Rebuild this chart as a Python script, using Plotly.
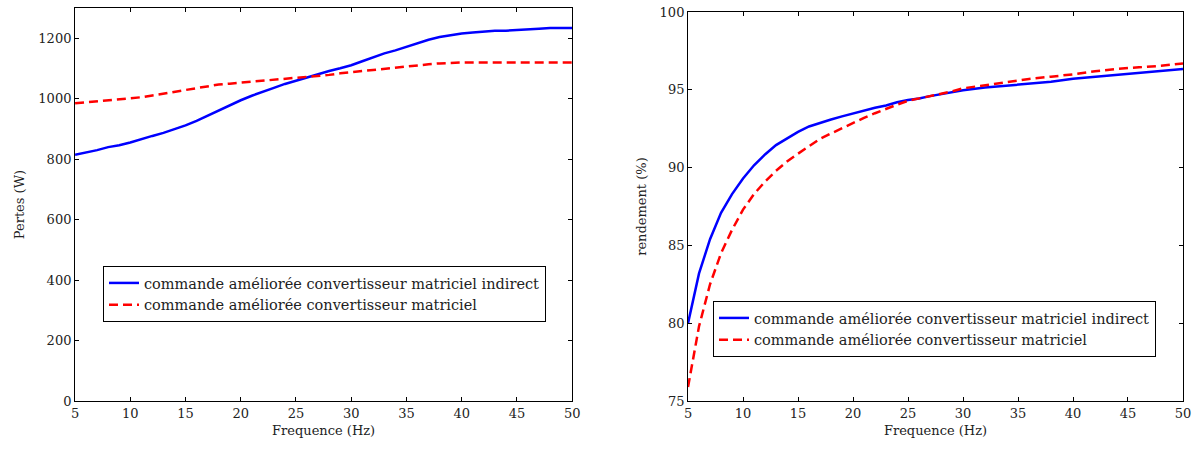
import plotly.graph_objects as go

# Left chart: Pertes (W) vs Frequence (Hz)
freq_l = list(range(5, 51))
pertes_indirect = [815, 822, 830, 840, 846, 855, 867, 877, 887, 899, 912, 927, 944, 962, 978, 995,
                   1010, 1024, 1036, 1049, 1060, 1070, 1082, 1092, 1101, 1111, 1124, 1138, 1150, 1160,
                   1172, 1185, 1195, 1204, 1211, 1216, 1219, 1222, 1225, 1225, 1228, 1231, 1232, 1234,
                   1234, 1234]
pertes_matriciel = [985, 988, 991, 994, 997, 1000, 1005, 1011, 1017, 1024, 1030, 1037, 1043, 1047,
                    1050, 1053, 1056, 1059, 1062, 1065, 1068, 1071, 1074, 1079, 1084, 1088, 1091, 1094,
                    1098, 1103, 1107, 1110, 1114, 1117, 1119, 1120, 1120, 1120, 1120, 1120, 1120, 1120,
                    1120, 1120, 1120, 1120]

# Right chart: rendement (%) vs Frequence (Hz)
freq_r = [5, 6, 7, 8, 9, 10, 11, 12, 13, 14, 15, 16, 17, 18, 19, 20, 21, 22, 23, 24, 25, 26, 27, 28,
          29, 30, 32, 34, 36, 38, 40, 42, 44, 46, 48, 50]
rend_indirect = [80.0, 83.2, 85.4, 87.1, 88.3, 89.3, 90.15, 90.85, 91.45, 91.9, 92.3, 92.65, 92.9,
                 93.1, 93.3, 93.5, 93.67, 93.85, 94.0, 94.2, 94.35, 94.45, 94.6, 94.72, 94.85, 94.98,
                 95.15, 95.28, 95.4, 95.52, 95.72, 95.85, 95.95, 96.1, 96.22, 96.35]
rend_matriciel = [75.9, 79.8, 82.5, 84.5, 86.0, 87.3, 88.3, 89.1, 89.8, 90.4, 90.9, 91.4, 91.85,
                  92.2, 92.55, 92.9, 93.2, 93.5, 93.8, 94.05, 94.3, 94.45, 94.6, 94.75, 94.9, 95.1,
                  95.3, 95.5, 95.7, 95.85, 96.0, 96.2, 96.35, 96.45, 96.55, 96.7]

name_indirect = "commande améliorée convertisseur matriciel indirect"
name_matriciel = "commande améliorée convertisseur matriciel"

xticks = [5, 10, 15, 20, 25, 30, 35, 40, 45, 50]

FONT = "DejaVu Serif"
fig = go.Figure()

fig.add_trace(go.Scatter(x=freq_l, y=pertes_indirect, mode="lines", name=name_indirect,
                         line=dict(color="#0000ff", width=2.5), xaxis="x", yaxis="y", legend="legend"))
fig.add_trace(go.Scatter(x=freq_l, y=pertes_matriciel, mode="lines", name=name_matriciel,
                         line=dict(color="#ff0000", width=2.5, dash="9px,5px"), xaxis="x", yaxis="y",
                         legend="legend"))
fig.add_trace(go.Scatter(x=freq_r, y=rend_indirect, mode="lines", name=name_indirect,
                         line=dict(color="#0000ff", width=2.5), xaxis="x2", yaxis="y2", legend="legend2"))
fig.add_trace(go.Scatter(x=freq_r, y=rend_matriciel, mode="lines", name=name_matriciel,
                         line=dict(color="#ff0000", width=2.5, dash="9px,5px"), xaxis="x2", yaxis="y2",
                         legend="legend2"))

axis_common = dict(showline=True, linecolor="black", linewidth=1, mirror="ticks", ticks="inside",
                   ticklen=4, tickcolor="black", showgrid=False, zeroline=False, automargin=False,
                   tickfont=dict(family=FONT, size=13, color="#222"))
title_font = dict(family=FONT, size=13, color="#222")
legend_common = dict(xanchor="left", yanchor="top", bordercolor="black", borderwidth=1,
                     bgcolor="white", font=dict(family=FONT, size=14.5, color="#222"),
                     tracegroupgap=0, itemwidth=30)

fig.update_layout(
    width=1197, height=449,
    margin=dict(l=0, r=0, t=0, b=0, autoexpand=False),
    paper_bgcolor="white", plot_bgcolor="white",
    font=dict(family=FONT, size=13, color="#222"),
    showlegend=True,
    xaxis=dict(domain=[0.0627, 0.478], range=[5, 50], tickvals=xticks, anchor="y",
               title=dict(text="Frequence (Hz)", font=title_font, standoff=6), **axis_common),
    yaxis=dict(domain=[0.107, 0.982], range=[0, 1300], tickvals=[0, 200, 400, 600, 800, 1000, 1200],
               anchor="x", title=dict(text="Pertes (W)", font=title_font, standoff=10), **axis_common),
    xaxis2=dict(domain=[0.5748, 0.9883], range=[5, 50], tickvals=xticks, anchor="y2",
                title=dict(text="Frequence (Hz)", font=title_font, standoff=6), **axis_common),
    yaxis2=dict(domain=[0.107, 0.973], range=[75, 100], tickvals=[75, 80, 85, 90, 95, 100],
                anchor="x2", title=dict(text="rendement (%)", font=title_font, standoff=10),
                **axis_common),
    legend=dict(x=103 / 1197, y=1 - 266 / 449, **legend_common),
    legend2=dict(x=713 / 1197, y=1 - 301 / 449, **legend_common),
)

fig.write_html("out.html", config={"displayModeBar": False},
               post_script="document.body.style.margin='0';")
